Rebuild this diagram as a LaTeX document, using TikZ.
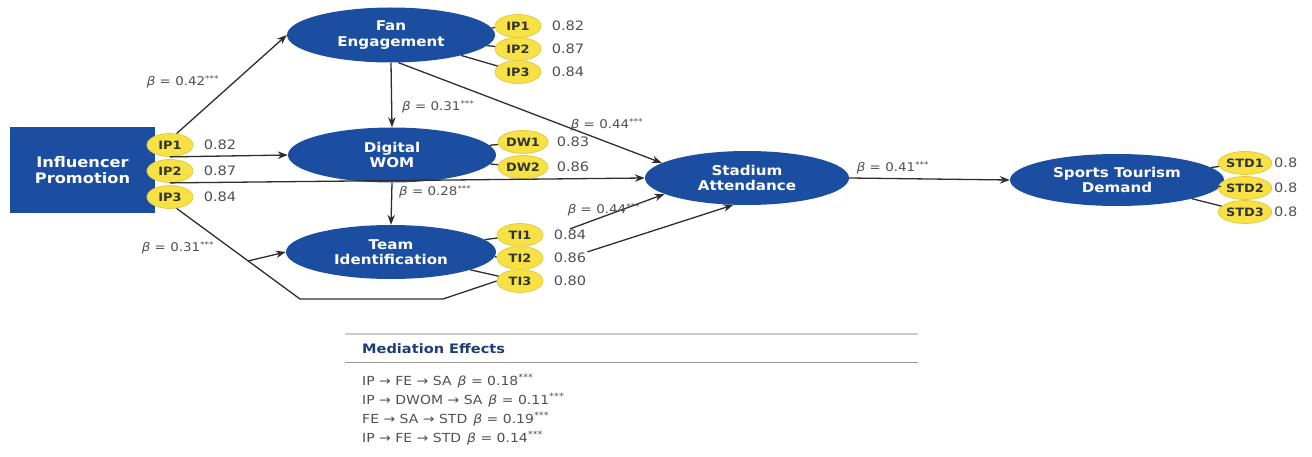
\documentclass[tikz,border=0pt]{standalone}
\usepackage{fontspec}
\setmainfont{DejaVu Sans}[FakeStretch=1.12]
\usetikzlibrary{shapes.geometric,arrows.meta,calc}
\definecolor{sblue}{RGB}{27,78,160}
\definecolor{byel}{RGB}{247,226,70}
\definecolor{byeldraw}{RGB}{232,200,70}
\definecolor{lgray}{RGB}{45,45,45}
\definecolor{tgray}{RGB}{80,80,80}
\definecolor{hblue}{RGB}{30,60,120}
\newcommand\btlab[1]{{\itshape β} = #1\textsuperscript{***}}
\begin{document}
\begin{tikzpicture}[x=1pt,y=-1pt,
  latent/.style={ellipse,fill=sblue,text=white,inner sep=0pt,minimum width=208pt,minimum height=55pt,align=center,font=\fontsize{13.5}{15.5}\selectfont\bfseries},
  ind/.style={ellipse,fill=byel,draw=byeldraw,line width=0.8pt,inner sep=0pt,minimum width=46pt,minimum height=23pt,font=\fontsize{11.5}{12}\selectfont\bfseries,text=black!80},
  val/.style={font=\fontsize{13}{14}\selectfont,text=tgray,inner sep=1pt},
  betalab/.style={font=\fontsize{12}{13}\selectfont,text=tgray,inner sep=1pt},
  arr/.style={draw=lgray,line width=1.3pt,-{Stealth[length=10pt,width=7.5pt]}},
  lnk/.style={draw=lgray,line width=1.3pt},
  rowtxt/.style={anchor=west,font=\fontsize{12.5}{14}\selectfont,text=tgray,inner sep=0pt},
]
\useasboundingbox (0,0) rectangle (1312,457);

% Influencer Promotion
\node[fill=sblue,minimum width=145pt,minimum height=86pt,inner sep=0pt,text=white,align=center,font=\fontsize{14.5}{15.5}\selectfont\bfseries] (ip) at (82.5,170) {Influencer\\Promotion};
\node[ind] (ipa1) at (170,145) {IP1};
\node[ind] (ipa2) at (170,171) {IP2};
\node[ind] (ipa3) at (170,197) {IP3};
\node[val] (vipa1) at (220,145) {0.82};
\node[val] (vipa2) at (220,171) {0.87};
\node[val] (vipa3) at (220,197) {0.84};

% Fan Engagement
\node[latent] (fe) at (391,35) {Fan\\Engagement};
\node[ind] (fi1) at (518,26) {IP1};
\node[ind] (fi2) at (518,49) {IP2};
\node[ind] (fi3) at (518,72) {IP3};
\node[val] (vfi1) at (568,26) {0.82};
\node[val] (vfi2) at (568,49) {0.87};
\node[val] (vfi3) at (568,72) {0.84};

% Digital WOM
\node[latent] (dw) at (392,155) {Digital\\WOM};
\node[ind,minimum width=50pt] (dw1) at (523,142) {DW1};
\node[ind,minimum width=50pt] (dw2) at (523,167) {DW2};
\node[val] (vdw1) at (573,142) {0.83};
\node[val] (vdw2) at (573,167) {0.86};

% Team Identification
\node[latent,minimum width=210pt,minimum height=54pt] (ti) at (391,252) {Team\\Identification};
\node[ind] (ti1) at (520,235) {TI1};
\node[ind] (ti2) at (520,258) {TI2};
\node[ind] (ti3) at (520,281) {TI3};
\node[val] (vti1) at (570,235) {0.84};
\node[val] (vti2) at (570,258) {0.86};
\node[val] (vti3) at (570,281) {0.80};

% Stadium Attendance
\node[latent,minimum width=204pt,minimum height=54pt] (sa) at (747,178) {Stadium\\Attendance};

% Sports Tourism Demand
\node[latent,minimum width=214pt,minimum height=52pt] (st) at (1117,180) {Sports Tourism\\Demand};
\node[ind,minimum width=48pt] (std1) at (1245,163) {STD1};
\node[ind,minimum width=48pt] (std2) at (1245,188) {STD2};
\node[ind,minimum width=48pt] (std3) at (1245,212) {STD3};
\node[val,anchor=west] (vstd1) at (1273,163) {0.8};
\node[val,anchor=west] (vstd2) at (1273,188) {0.8};
\node[val,anchor=west] (vstd3) at (1273,212) {0.8};

% indicator links
\draw[lnk] (fe) -- (fi1); \draw[lnk] (fe) -- (fi2); \draw[lnk] (fe) -- (fi3);
\draw[lnk] (dw) -- (dw1); \draw[lnk] (dw) -- (dw2);
\draw[lnk] (ti) -- (ti1); \draw[lnk] (ti) -- (ti2); \draw[lnk] (ti) -- (ti3);
\draw[lnk] (st) -- (std1); \draw[lnk] (st) -- (std2); \draw[lnk] (st) -- (std3);

% structural paths
\draw[arr] (ipa1.60) -- (fe.west);
\draw[arr] (ipa1.south) -- (dw.west);
\draw[arr] (ipa2.south) -- (sa.west);
\coordinate (c1) at (300,299);
\coordinate (c2) at (443,299);
\draw[lnk] (ipa3.-60) -- (c1) -- (c2) -- (ti3.west);
\coordinate (br) at ($(ipa3.-60)!0.58!(c1)$);
\draw[arr] (br) -- (ti.west);
\draw[arr] (fe.south) -- (dw.north);
\draw[arr] (fe.-75) -- (sa.170);
\draw[arr] (dw.south) -- (ti.north);
\draw[arr] (vti1.north) -- (sa.191);
\draw[arr] (vti2.north east) -- (sa.243);
\draw[arr] (sa.east) -- (st.west);

% beta labels
\node[betalab] (b1) at (183,82) {\btlab{0.42}};
\node[betalab,anchor=west] (b2) at (401,107) {\btlab{0.31}};
\node[betalab] (b3) at (607,125) {\btlab{0.44}};
\node[betalab,anchor=west] (b4) at (398,192) {\btlab{0.28}};
\node[betalab] (b5) at (604,210) {\btlab{0.44}};
\node[betalab] (b6) at (178,248) {\btlab{0.31}};
\node[betalab] (b7) at (893,168) {\btlab{0.41}};

% mediation table
\coordinate (t1a) at (345,334); \coordinate (t1b) at (918,334);
\coordinate (t2a) at (345,362); \coordinate (t2b) at (918,362);
\draw[draw=black!20,line width=1.2pt] (t1a) -- (t1b);
\draw[draw=black!40,line width=1pt] (t2a) -- (t2b);
\node[anchor=west,inner sep=0pt,text=hblue,font=\fontsize{13}{14}\selectfont\bfseries] (mh) at (362,349) {Mediation Effects};
\node[rowtxt] (r1) at (362,381) {IP → FE → SA\hspace{6pt}\btlab{0.18}};
\node[rowtxt] (r2) at (362,400) {IP → DWOM → SA\hspace{6pt}\btlab{0.11}};
\node[rowtxt] (r3) at (362,419) {FE → SA → STD\hspace{6pt}\btlab{0.19}};
\node[rowtxt] (r4) at (362,438) {IP → FE → STD\hspace{6pt}\btlab{0.14}};
\end{tikzpicture}
\end{document}
